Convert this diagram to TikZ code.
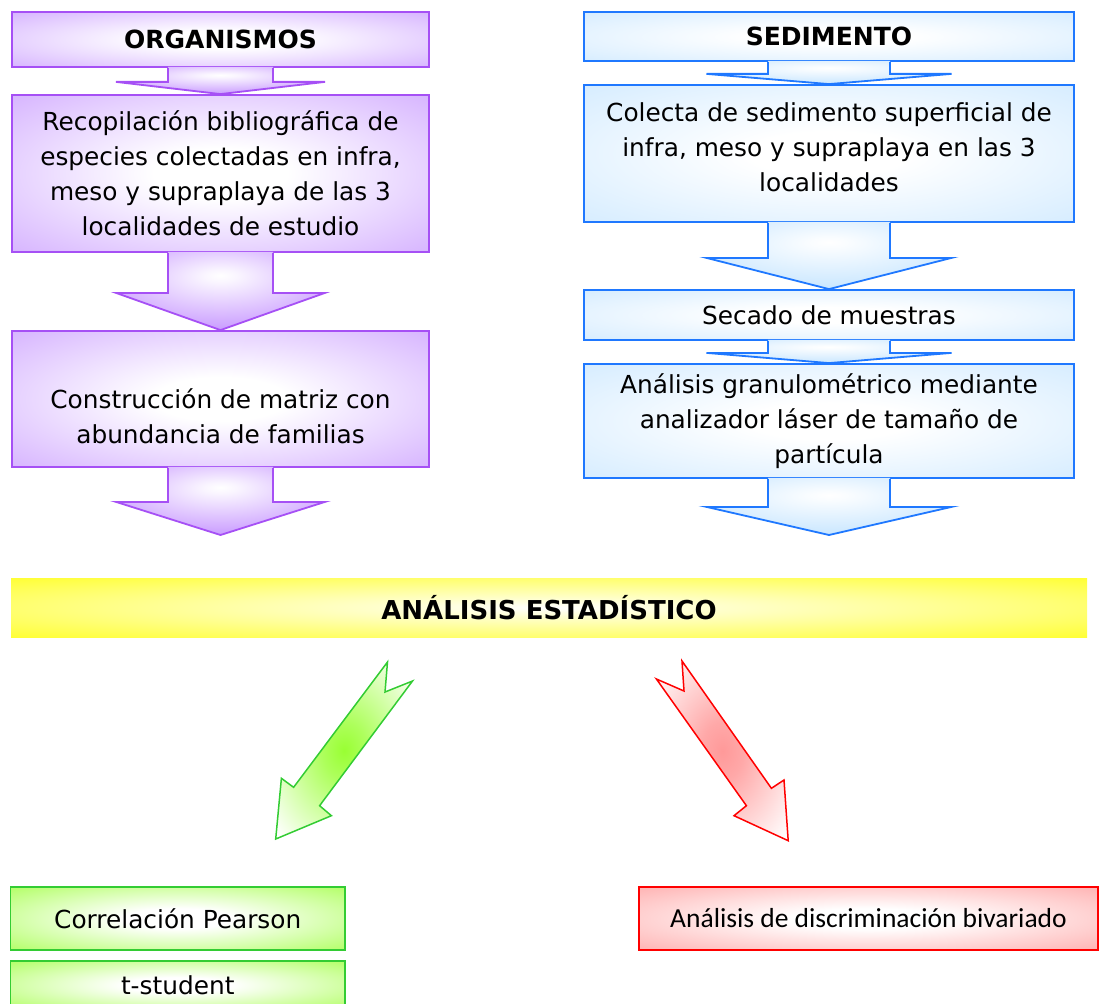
\documentclass[tikz,border=0pt]{standalone}
\usepackage{fontspec}
\setmainfont{DejaVu Sans}
\newfontfamily\calibri{Carlito}
\usetikzlibrary{calc}

\definecolor{lila}{HTML}{C99BFF}
\definecolor{lilaborde}{HTML}{A650F5}
\definecolor{celeste}{HTML}{C8E6FF}
\definecolor{celesteborde}{HTML}{1F78FF}
\definecolor{amarillo}{HTML}{FFFF00}
\definecolor{verde}{HTML}{99FF33}
\definecolor{verdeborde}{HTML}{33CC33}
\definecolor{rosa}{HTML}{FF9999}
\definecolor{rojoborde}{HTML}{FF0000}

\pgfdeclareradialshading{radlila}{\pgfpoint{0bp}{0bp}}{color(0bp)=(white); color(8bp)=(white); color(45bp)=(lila); color(100bp)=(lila)}
\pgfdeclareradialshading{radceleste}{\pgfpoint{0bp}{0bp}}{color(0bp)=(white); color(8bp)=(white); color(45bp)=(celeste); color(100bp)=(celeste)}
\pgfdeclareradialshading{radamarillo}{\pgfpoint{0bp}{0bp}}{color(0bp)=(white); color(8bp)=(white!80!amarillo); color(45bp)=(amarillo); color(100bp)=(amarillo)}
\pgfdeclareradialshading{radverde}{\pgfpoint{0bp}{0bp}}{color(0bp)=(white); color(8bp)=(white); color(45bp)=(verde); color(100bp)=(verde)}
\pgfdeclareradialshading{radrosa}{\pgfpoint{0bp}{0bp}}{color(0bp)=(white); color(8bp)=(white); color(45bp)=(rosa); color(100bp)=(rosa)}
% flechas hacia abajo: mas color que las cajas
\pgfdeclareradialshading{radlilaflecha}{\pgfpoint{0bp}{10bp}}{color(0bp)=(white); color(4bp)=(white!90!lila); color(32bp)=(lila); color(100bp)=(lila)}
\pgfdeclareradialshading{radcelesteflecha}{\pgfpoint{0bp}{10bp}}{color(0bp)=(white); color(4bp)=(white!90!celeste); color(32bp)=(celeste); color(100bp)=(celeste)}
% flechas diagonales: color al centro, blanco en las puntas
\pgfdeclareradialshading{radverdein}{\pgfpoint{0bp}{0bp}}{color(0bp)=(verde); color(8bp)=(verde!80!white); color(34bp)=(white); color(100bp)=(white)}
\pgfdeclareradialshading{radrosain}{\pgfpoint{0bp}{0bp}}{color(0bp)=(rosa); color(8bp)=(rosa!85!white); color(34bp)=(white); color(100bp)=(white)}

\tikzset{
    cuerpo/.style={align=center, font=\fontsize{24.8}{35}\selectfont},
    caja/.style={cuerpo, line width=1.8pt, inner sep=0pt},
    titulo/.style={font=\fontsize{25}{30}\selectfont\bfseries},
    lilacaja/.style={caja, draw=lilaborde, shading=radlila, minimum width=417},
    azulcaja/.style={caja, draw=celesteborde, shading=radceleste, minimum width=490},
    verdecaja/.style={caja, line width=1.5pt, draw=verdeborde, shading=radverde, minimum width=334.5},
    rosacaja/.style={caja, line width=1.5pt, draw=rojoborde, shading=radrosa, minimum width=459},
}

% flecha gruesa hacia abajo: #1 nodo, #2 punta, #3 largo tallo, #4 medio tallo, #5 media cabeza, #6 color
\newcommand\flecha[6]{%
    \shade[shading=rad#6flecha] ($(#1.south)+(-#4,-1)$) -- ($(#1.south)+(-#4,#3)$) -- ($(#1.south)+(-#5,#3)$)
        -- (#2) -- ($(#1.south)+(#5,#3)$) -- ($(#1.south)+(#4,#3)$) -- ($(#1.south)+(#4,-1)$) -- cycle;
    \draw[#6borde, line width=1.8pt] ($(#1.south)+(-#4,0)$) -- ($(#1.south)+(-#4,#3)$) -- ($(#1.south)+(-#5,#3)$)
        -- (#2) -- ($(#1.south)+(#5,#3)$) -- ($(#1.south)+(#4,#3)$) -- ($(#1.south)+(#4,0)$);
}

\begin{document}
\begin{tikzpicture}[x=1pt, y=-1pt]
    \useasboundingbox (0,0) rectangle (1099,1003);

    % organismos
    \node[lilacaja, minimum height=55, titulo] (org) at (220.5,39.5) {ORGANISMOS};
    \node[lilacaja, minimum height=157] (reco) at (220.5,173.5) {Recopilación bibliográfica de\\especies colectadas en infra,\\meso y supraplaya de las 3\\localidades de estudio};
    \node[lilacaja, minimum height=136] (cons) at (220.5,399) {};
    \node[cuerpo] (cons-txt) at ($(cons)+(0,17)$) {Construcción de matriz con\\abundancia de familias};
    \coordinate (fin-org) at (220.5,535);

    \flecha{org}{reco.north}{14}{52.5}{104.5}{lila}
    \flecha{reco}{cons.north}{40}{52.5}{104.5}{lila}
    \flecha{cons}{fin-org}{34}{52.5}{104.5}{lila}

    % sedimento
    \node[azulcaja, minimum height=49, titulo] (sed) at (829,36.5) {SEDIMENTO};
    \node[azulcaja, minimum height=137] (col) at (829,153.5) {};
    \node[cuerpo] (col-txt) at ($(col)+(0,-6)$) {Colecta de sedimento superficial de\\infra, meso y supraplaya en las 3\\localidades};
    \node[azulcaja, minimum height=50] (sec) at (829,315) {Secado de muestras};
    \node[azulcaja, minimum height=114] (ana) at (829,421) {Análisis granulométrico mediante\\analizador láser de tamaño de\\partícula};
    \coordinate (fin-sed) at (829,535);

    \flecha{sed}{col.north}{12}{61}{122.5}{celeste}
    \flecha{col}{sec.north}{35}{61}{122.5}{celeste}
    \flecha{sec}{ana.north}{12}{61}{122.5}{celeste}
    \flecha{ana}{fin-sed}{28}{61}{122.5}{celeste}

    % analisis
    \node[shading=radamarillo, minimum width=1076, minimum height=59, inner sep=0pt,
        font=\fontsize{26}{30}\selectfont\bfseries] (estad) at (549,607.5) {ANÁLISIS ESTADÍSTICO};

    \shade[shading=radverdein] (387.5,662) -- (293.6,787.3) -- (281.4,778.3) -- (275.7,839)
        -- (331.4,815.7) -- (319.6,805.7) -- (412.5,681) -- (385,692) -- cycle;
    \draw[verdeborde, line width=1.5pt] (387.5,662) -- (293.6,787.3) -- (281.4,778.3) -- (275.7,839)
        -- (331.4,815.7) -- (319.6,805.7) -- (412.5,681) -- (385,692) -- cycle;
    \shade[shading=radrosain] (682,661) -- (771.4,788.3) -- (784,780) -- (788.2,840.7)
        -- (734,815.7) -- (746.4,805.7) -- (656.4,679) -- (684,691) -- cycle;
    \draw[rojoborde, line width=1.5pt] (682,661) -- (771.4,788.3) -- (784,780) -- (788.2,840.7)
        -- (734,815.7) -- (746.4,805.7) -- (656.4,679) -- (684,691) -- cycle;

    \node[verdecaja, minimum height=63] (pear) at (177.75,918.5) {Correlación Pearson};
    \node[verdecaja, minimum height=48] (tst) at (177.75,985) {t-student};
    \node[rosacaja, minimum height=63, font=\calibri\fontsize{27.5}{30}\selectfont] (biv) at (868.5,918.5) {Análisis de discriminación bivariado};
\end{tikzpicture}
\end{document}
